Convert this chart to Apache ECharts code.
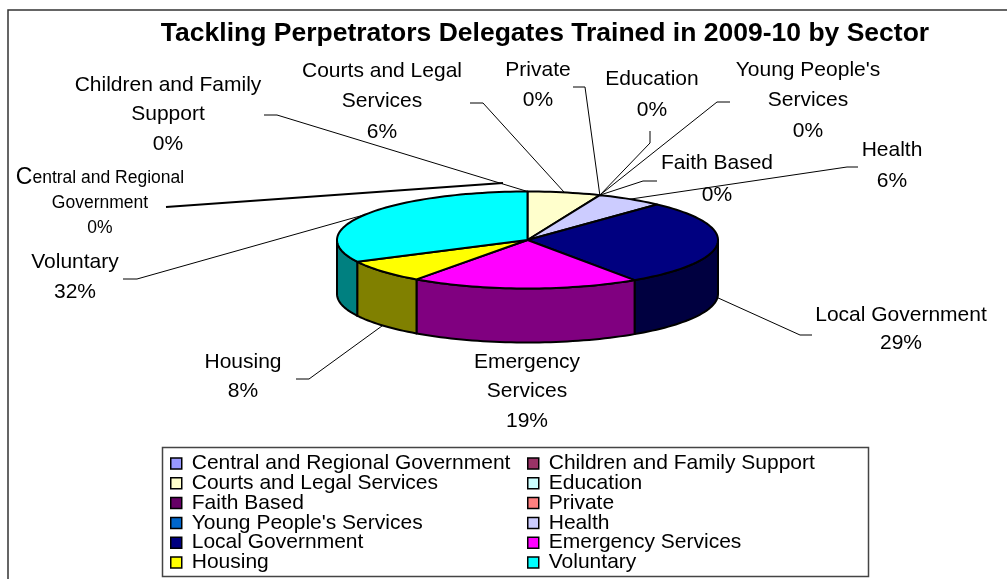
<!DOCTYPE html>
<html>
<head>
<meta charset="utf-8">
<style>
  html, body { margin: 0; padding: 0; background: #fff; }
  #chart { width: 1007px; height: 579px; }
</style>
<script src="https://cdn.jsdelivr.net/npm/echarts@6/dist/echarts.min.js"></script>
</head>
<body>
<div id="chart"></div>
<script>
var titleText = 'Tackling Perpetrators Delegates Trained in 2009-10 by Sector'
var categories = ['Central and Regional Government', 'Children and Family Support', 'Courts and Legal Services', 'Education', 'Faith Based', 'Private', "Young People's Services", 'Health', 'Local Government', 'Emergency Services', 'Housing', 'Voluntary']
var values = [0, 0, 6.2, 0, 0, 0, 0, 5.7, 28.6, 19.4, 7.7, 32.4]
var colors = ['#9999FF', '#993366', '#FFFFCC', '#CCFFFF', '#660066', '#FF8080', '#0066CC', '#CCCCFF', '#000080', '#FF00FF', '#FFFF00', '#00FFFF']
var wallColors = ['#4C4C80', '#4C1933', '#808066', '#668080', '#330033', '#804040', '#003366', '#666680', '#000040', '#800080', '#808000', '#008080']

// pie ellipse
var cx = 527.5, cy = 240, rx = 190.5, ry = 48.5, depth = 54
var total = values.reduce(function (a, b) { return a + b }, 0)

// label centre + line pitch, leader = elbow points from the label side
var labelLayout = [
  { x: 100, y: 178, pitch: 25, lines: ['{big|C}{small|entral and Regional}', '{small|Government}'], small: true, leader: [[166, 207], [180, 206], [503, 183]], noAnchor: true, width: 2 },
  { x: 168, y: 85, pitch: 29.5, lines: ['Children and Family', 'Support'], leader: [[264, 115], [277, 115]] },
  { x: 382, y: 71, pitch: 30.5, lines: ['Courts and Legal', 'Services'], leader: [[470, 103], [483, 103]] },
  { x: 652, y: 79, pitch: 31, lines: ['Education'], leader: [[650, 131], [650, 143]] },
  { x: 717, y: 163, pitch: 32, lines: ['Faith Based'], leader: [[657, 181], [643, 181]] },
  { x: 538, y: 70, pitch: 30, lines: ['Private'], leader: [[573, 87], [585, 87]] },
  { x: 808, y: 70, pitch: 30.5, lines: ["Young People's", 'Services'], leader: [[730, 102], [717, 102]] },
  { x: 892, y: 150, pitch: 31, lines: ['Health'], leader: [[858, 167], [847, 167]] },
  { x: 901, y: 315, pitch: 28, lines: ['Local Government'], leader: [[812, 335], [800, 335]] },
  { x: 527, y: 362, pitch: 29.5, lines: ['Emergency', 'Services'], leader: null },
  { x: 243, y: 362, pitch: 29, lines: ['Housing'], leader: [[296, 379], [309, 379]] },
  { x: 75, y: 262, pitch: 30, lines: ['Voluntary'], leader: [[123, 279], [137, 279]] }
]

function startOf (i) {
  var s = 0
  for (var k = 0; k < i; k++) s += values[k]
  return s / total * Math.PI * 2
}

function rim (a, dz) {
  return [cx + rx * Math.sin(a), cy - ry * Math.cos(a) + (dz || 0)]
}

function arc (a0, a1, dz) {
  var pts = []
  var n = Math.max(2, Math.ceil((a1 - a0) / 0.03))
  for (var k = 0; k <= n; k++) pts.push(rim(a0 + (a1 - a0) * k / n, dz))
  return pts
}

function renderSlice (params, api) {
  var i = params.seriesIndex
  var a0 = startOf(i)
  var a1 = a0 + values[i] / total * Math.PI * 2
  var children = []

  if (values[i] > 0) {
    var w0 = Math.max(a0, Math.PI / 2)
    var w1 = Math.min(a1, Math.PI * 1.5)
    if (w1 > w0) {
      children.push({
        type: 'polygon',
        shape: { points: arc(w0, w1, 0).concat(arc(w0, w1, depth).reverse()) },
        style: { fill: wallColors[i], stroke: '#000', lineWidth: 2, lineJoin: 'round' }
      })
    }
    children.push({
      type: 'polygon',
      shape: { points: [[cx, cy]].concat(arc(a0, a1, 0)) },
      style: { fill: colors[i], stroke: '#000', lineWidth: 2, lineJoin: 'round' }
    })
  }

  var lay = labelLayout[i]
  if (lay.leader) {
    var mid = (a0 + a1) / 2
    var front = mid > Math.PI / 2 && mid < Math.PI * 1.5
    var pts = lay.leader.slice()
    if (!lay.noAnchor) pts.push(rim(mid, front ? depth : 0))
    children.push({
      type: 'polyline',
      shape: { points: pts },
      style: { fill: 'none', stroke: '#000', lineWidth: lay.width || 1 }
    })
  }

  var pct = Math.round(values[i] / total * 100) + '%'
  var lines = lay.lines.concat(lay.small ? '{small|' + pct + '}' : pct)
  lines.forEach(function (t, k) {
    children.push({
      type: 'text',
      x: lay.x,
      y: lay.y + lay.pitch * k,
      style: {
        text: t,
        fill: '#000',
        font: '21px "Liberation Sans", Arial, sans-serif',
        align: 'center',
        verticalAlign: 'middle',
        rich: {
          big: { fontSize: 23, fontFamily: 'Liberation Sans' },
          small: { fontSize: 17.5, fontFamily: 'Liberation Sans' }
        }
      }
    })
  })
  return { type: 'group', children: children }
}

var legendText = { color: '#000', fontSize: 21, fontFamily: 'Liberation Sans', padding: [0, 0, 0, 5] }
var legendItem = { borderColor: '#000', borderWidth: 1.5 }

var option = {
  animation: false,
  backgroundColor: '#fff',
  title: {
    text: titleText,
    left: 540,
    top: 15,
    textAlign: 'center',
    textStyle: { color: '#000', fontSize: 26.5, fontWeight: 'bold', fontFamily: 'Liberation Sans' }
  },
  legend: [{
    left: 170,
    top: 453,
    orient: 'vertical',
    itemGap: -1.2,
    itemWidth: 11,
    itemHeight: 11,
    padding: 0,
    selectedMode: false,
    data: categories.filter(function (c, i) { return i % 2 === 0 }),
    icon: 'rect',
    itemStyle: legendItem,
    textStyle: legendText
  }, {
    left: 527,
    top: 453,
    orient: 'vertical',
    itemGap: -1.2,
    itemWidth: 11,
    itemHeight: 11,
    padding: 0,
    selectedMode: false,
    data: categories.filter(function (c, i) { return i % 2 === 1 }),
    icon: 'rect',
    itemStyle: legendItem,
    textStyle: legendText
  }],
  graphic: [{
    type: 'rect',
    z: -1,
    shape: { x: 8, y: 10, width: 1010, height: 590 },
    style: { fill: '#fff', stroke: '#333', lineWidth: 1.5 }
  }, {
    type: 'rect',
    z: -1,
    shape: { x: 162.5, y: 447.5, width: 706, height: 129 },
    style: { fill: '#fff', stroke: '#444', lineWidth: 1.5 }
  }],
  series: categories.map(function (name, i) {
    return {
      name: name,
      type: 'custom',
      coordinateSystem: 'none',
      silent: true,
      itemStyle: { color: colors[i] },
      data: [values[i]],
      renderItem: renderSlice
    }
  })
}

var chart = echarts.init(document.getElementById('chart'), null, { renderer: 'canvas' })
chart.setOption(option)
</script>
</body>
</html>
